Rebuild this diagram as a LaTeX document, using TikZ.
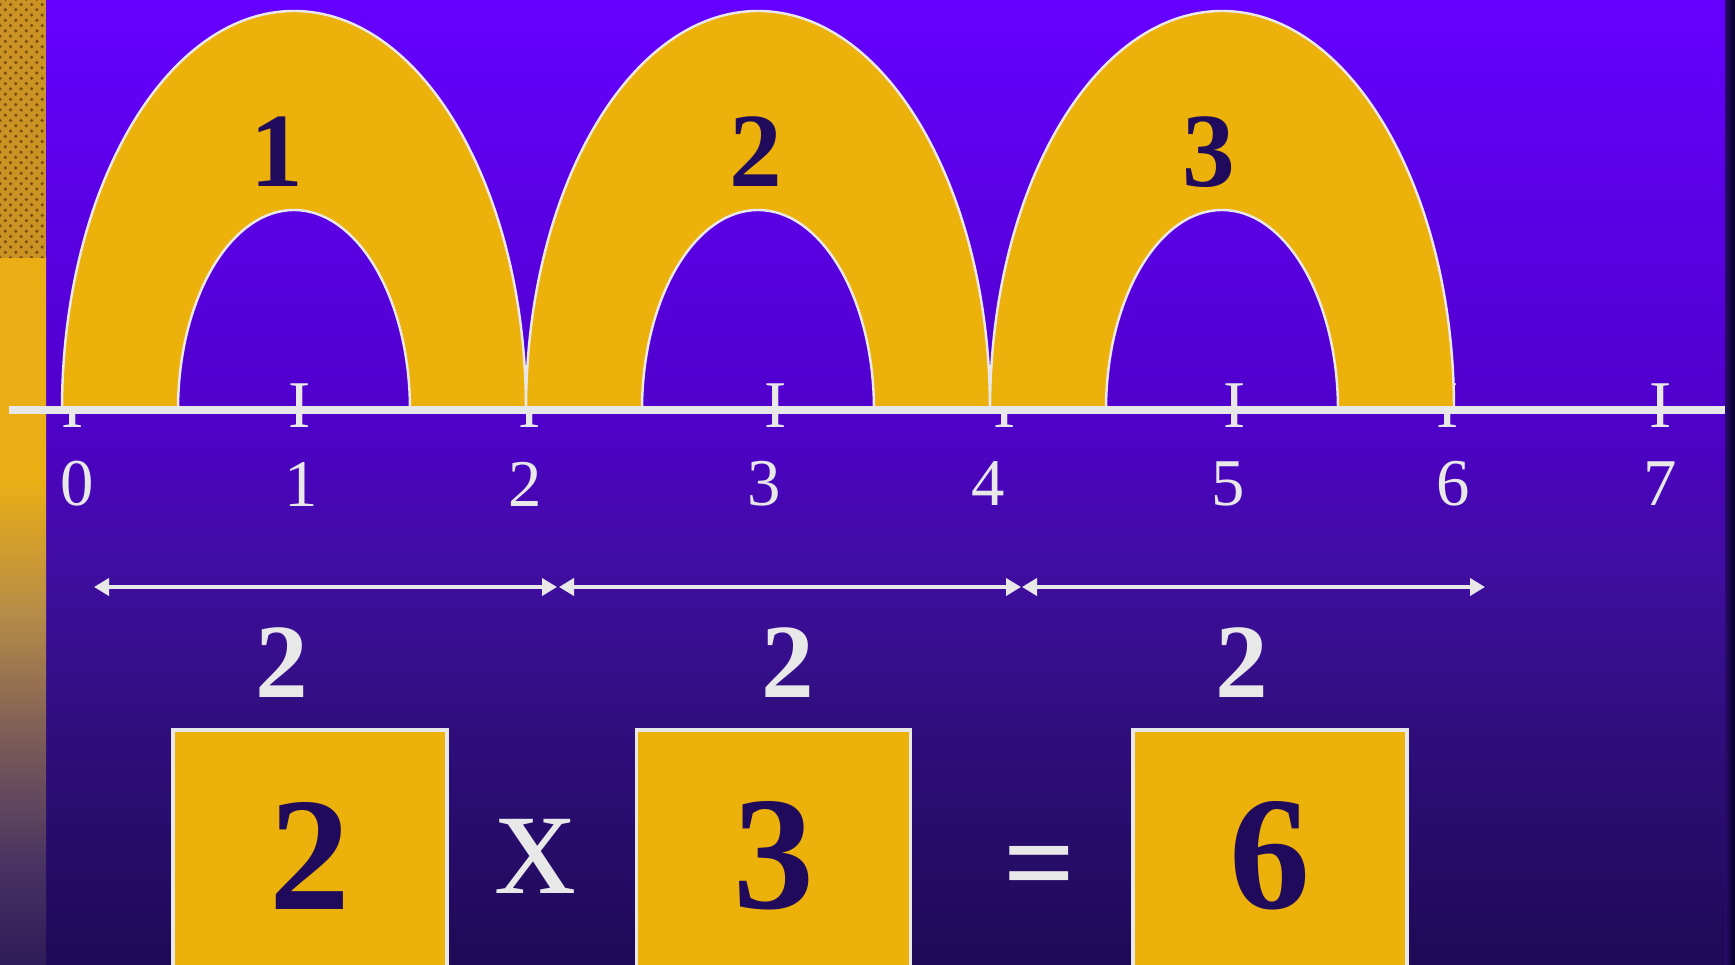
\documentclass[tikz,border=0pt]{standalone}
\usepackage{fontspec}
\setmainfont{Liberation Serif}
\usepackage{xcolor}
\usepackage{tikz}
\usetikzlibrary{arrows.meta,positioning,patterns}
\definecolor{bgtop}{HTML}{6600FF}
\definecolor{bgline}{HTML}{5000CC}
\definecolor{bgarrow}{HTML}{3E0E9C}
\definecolor{bgbox}{HTML}{2F0E7C}
\definecolor{bgbot}{HTML}{1E0A56}
\definecolor{archgold}{HTML}{EDB10C}
\definecolor{inkgray}{HTML}{E8E8E8}
\definecolor{navyink}{HTML}{200A5C}
\definecolor{stripgold}{HTML}{EBAF15}
\definecolor{stripbrown}{HTML}{B58B48}
\definecolor{stripmauve}{HTML}{7C5C58}
\definecolor{stripdusk}{HTML}{4A3462}
\definecolor{stripbot}{HTML}{2E1C5A}
\definecolor{texgold}{HTML}{CB9224}
\definecolor{texdark}{HTML}{7A4E0E}
\pgfdeclareverticalshading{bgshade}{100bp}{color(0bp)=(bgbot); color(25bp)=(bgbot);
  color(37bp)=(bgbox); color(44.6bp)=(bgarrow); color(53.7bp)=(bgline);
  color(75bp)=(bgtop); color(100bp)=(bgtop)}
\pgfdeclareverticalshading{stripshade}{100bp}{color(0bp)=(stripbot); color(25bp)=(stripbot);
  color(32.3bp)=(stripdusk); color(41bp)=(stripmauve); color(49.7bp)=(stripbrown);
  color(59.3bp)=(stripgold); color(75bp)=(stripgold); color(100bp)=(stripgold)}
\tikzset{
  arch/.style={fill=archgold, draw=none},
  archedge/.style={draw=inkgray, line width=0.7pt},
  tickmark/.style={inner sep=0pt, text=inkgray, font=\fontsize{19}{22}\selectfont},
  numlabel/.style={inner sep=0pt, text=inkgray, font=\fontsize{19}{22}\selectfont},
  archnum/.style={inner sep=0pt, text=navyink, font=\bfseries\fontsize{30}{36}\selectfont},
  spanlabel/.style={inner sep=0pt, text=inkgray, font=\bfseries\fontsize{30}{36}\selectfont},
  spanarrow/.style={{Triangle[length=0.15cm,width=0.17cm]}-{Triangle[length=0.15cm,width=0.17cm]},
                    draw=inkgray, line width=1.1pt},
  factorbox/.style={rectangle, draw=inkgray, line width=1pt, fill=archgold,
                    minimum width=2.74cm, minimum height=2.52cm, inner sep=0pt,
                    text=navyink, font=\bfseries\fontsize{46}{52}\selectfont},
  opsym/.style={inner sep=0pt, text=inkgray, font=\fontsize{46}{52}\selectfont}
}
\begin{document}
\begin{tikzpicture}

\useasboundingbox (0,0) rectangle (17.35,9.64);
\clip (0,0) rectangle (17.35,9.64);

% --- Background ---
\fill[shading=bgshade] (0.46,0) rectangle (17.25,9.64);
\shade[left color=bgarrow!70!black, right color=black!85!blue] (17.25,0) rectangle (17.35,9.64);
\fill[shading=stripshade] (0,0) rectangle (0.46,7.06);
\fill[texgold] (0,7.06) rectangle (0.46,9.64);
\fill[pattern=crosshatch dots, pattern color=texdark] (0,7.06) rectangle (0.46,9.64);

% --- Ticks and numbers ---
\foreach \tx/\lx [count=\i from 0] in {0.73/0.77, 3.00/3.01, 5.30/5.25, 7.76/7.64,
                                        10.05/9.88, 12.35/12.28, 14.48/14.53, 16.61/16.60} {
  \node[tickmark] (t\i) at (\tx,5.58) {I};
  \node[numlabel] (n\i) at (\lx,4.80) {\i};
}

% --- Arches ---
\foreach \cx in {2.94,7.58,12.22} {
  \fill[arch] (\cx-2.32,5.54) arc[start angle=180, end angle=0, x radius=2.32, y radius=3.99]
    -- (\cx+1.16,5.54) arc[start angle=0, end angle=180, x radius=1.16, y radius=2.00] -- cycle;
  \draw[archedge] (\cx-2.32,5.54) arc[start angle=180, end angle=0, x radius=2.32, y radius=3.99];
  \draw[archedge] (\cx-1.16,5.54) arc[start angle=180, end angle=0, x radius=1.16, y radius=2.00];
}
\node[archnum] (hop1) at (2.77,8.12) {1};
\node[archnum] (hop2) at (7.56,8.12) {2};
\node[archnum] (hop3) at (12.09,8.12) {3};

% --- Number line ---
\coordinate (lstart) at (0.09,5.54);
\coordinate (lend) at (17.25,5.54);
\draw[inkgray, line width=2.3pt] (lstart) -- (lend);

% --- Span arrows ---
\coordinate (s0) at (0.94,3.77);
\coordinate (s1) at (5.58,3.77);
\coordinate (s2) at (10.215,3.77);
\coordinate (s3) at (14.85,3.77);
\draw[spanarrow, shorten >=0.01cm] (s0) -- (s1);
\draw[spanarrow, shorten <=0.01cm, shorten >=0.005cm] (s1) -- (s2);
\draw[spanarrow, shorten <=0.005cm] (s2) -- (s3);
\node[spanlabel] (len1) at (2.82,3.01) {2};
\node[spanlabel] (len2) at (7.88,3.01) {2};
\node[spanlabel] (len3) at (12.42,3.01) {2};

% --- Product ---
\node[factorbox] (box1) at (3.10,1.08) {2};
\node[factorbox] (box2) at (7.735,1.08) {3};
\node[factorbox] (box3) at (12.70,1.08) {6};
\node[opsym] (times) at (5.355,1.08) {x};
\node[opsym, anchor=base, font=\bfseries\fontsize{36}{40}\selectfont] (equals) at (10.395,0.59) {=};

\end{tikzpicture}
\end{document}
